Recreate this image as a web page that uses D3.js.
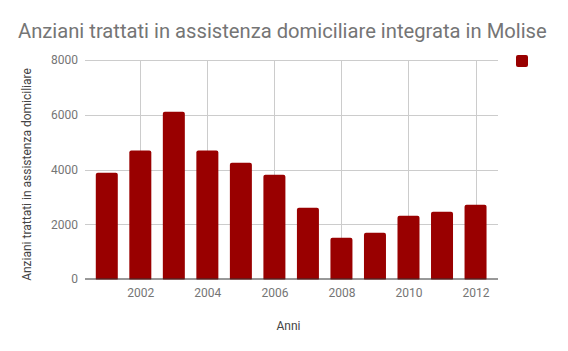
<!DOCTYPE html>
<html>
<head>
<meta charset="utf-8">
<script src="https://cdn.jsdelivr.net/npm/d3@7"></script>
<style>
  body { margin: 0; background: #fff; }
  svg { font-family: Roboto, "Noto Sans", sans-serif; }
</style>
</head>
<body>
<div id="chart"></div>
<script>
// data
const years = [2001, 2002, 2003, 2004, 2005, 2006, 2007, 2008, 2009, 2010, 2011, 2012];
const anziani = [3880, 4690, 6110, 4690, 4250, 3810, 2600, 1510, 1690, 2310, 2460, 2710];
const yTicks = [0, 2000, 4000, 6000, 8000];
const xTicks = [2002, 2004, 2006, 2008, 2010, 2012];

const width = 568, height = 351;
const margin = {top: 60, right: 70, bottom: 72, left: 85};

const svg = d3.select("#chart").append("svg")
    .attr("width", width)
    .attr("height", height);

// continuous year axis, like the original
const x = d3.scaleLinear()
    .domain([2000.35, 2012.67])
    .range([margin.left, width - margin.right]);

const y = d3.scaleLinear()
    .domain([0, 8000])
    .range([height - margin.bottom, margin.top]);

// gridlines
svg.append("g")
  .selectAll("line.h")
  .data(yTicks.slice(1))
  .join("line")
    .attr("x1", margin.left).attr("x2", width - margin.right)
    .attr("y1", d => Math.round(y(d)) + 0.5).attr("y2", d => Math.round(y(d)) + 0.5)
    .attr("stroke", "#cccccc");

svg.append("g")
  .selectAll("line.v")
  .data(xTicks)
  .join("line")
    .attr("x1", d => Math.round(x(d)) + 0.5).attr("x2", d => Math.round(x(d)) + 0.5)
    .attr("y1", margin.top).attr("y2", y(0))
    .attr("stroke", "#cccccc");

// bars
const barW = 22;
svg.append("g")
  .selectAll("rect")
  .data(years)
  .join("rect")
    .attr("x", (d, i) => x(d) - barW / 2)
    .attr("y", (d, i) => y(anziani[i]))
    .attr("width", barW)
    .attr("height", (d, i) => y(0) - y(anziani[i]) + 2)
    .attr("rx", 2)
    .attr("fill", "#990000");

// cover bottom rounding under the baseline
svg.append("rect")
    .attr("x", margin.left).attr("y", y(0) + 0.5)
    .attr("width", width - margin.left - margin.right).attr("height", 4)
    .attr("fill", "#fff");

// baseline
svg.append("line")
    .attr("x1", margin.left).attr("x2", width - margin.right)
    .attr("y1", y(0)).attr("y2", y(0))
    .attr("stroke", "#333333");

// y ticks
const yAxis = d3.axisLeft(y).tickValues(yTicks).tickFormat(d3.format("d")).tickSize(0).tickPadding(7);
svg.append("g")
    .attr("transform", `translate(${margin.left},0)`)
    .call(yAxis)
    .call(g => g.select(".domain").remove())
    .selectAll("text")
    .attr("font-size", 12)
    .attr("font-family", "Roboto")
    .attr("fill", "#757575");

// x ticks
const xAxis = d3.axisBottom(x).tickValues(xTicks).tickFormat(d3.format("d")).tickSize(0).tickPadding(9);
svg.append("g")
    .attr("transform", `translate(0,${y(0)})`)
    .call(xAxis)
    .call(g => g.select(".domain").remove())
    .selectAll("text")
    .attr("font-size", 12)
    .attr("font-family", "Roboto")
    .attr("fill", "#757575");

// title
svg.append("text")
    .attr("x", 18).attr("y", 38)
    .attr("font-size", 20.2)
    .attr("fill", "#757575")
    .text("Anziani trattati in assistenza domiciliare integrata in Molise");

// axis titles
svg.append("text")
    .attr("x", (margin.left + width - margin.right) / 2 - 3)
    .attr("y", 330)
    .attr("text-anchor", "middle")
    .attr("font-size", 12)
    .attr("fill", "#444444")
    .text("Anni");

svg.append("text")
    .attr("transform", `translate(31,${(margin.top + y(0)) / 2 + 5}) rotate(-90)`)
    .attr("text-anchor", "middle")
    .attr("font-size", 12)
    .attr("fill", "#444444")
    .text("Anziani trattati in assistenza domiciliare");

// legend swatch (series has no name)
svg.append("rect")
    .attr("x", 516).attr("y", 55)
    .attr("width", 12).attr("height", 12)
    .attr("rx", 2)
    .attr("fill", "#990000");
</script>
</body>
</html>
